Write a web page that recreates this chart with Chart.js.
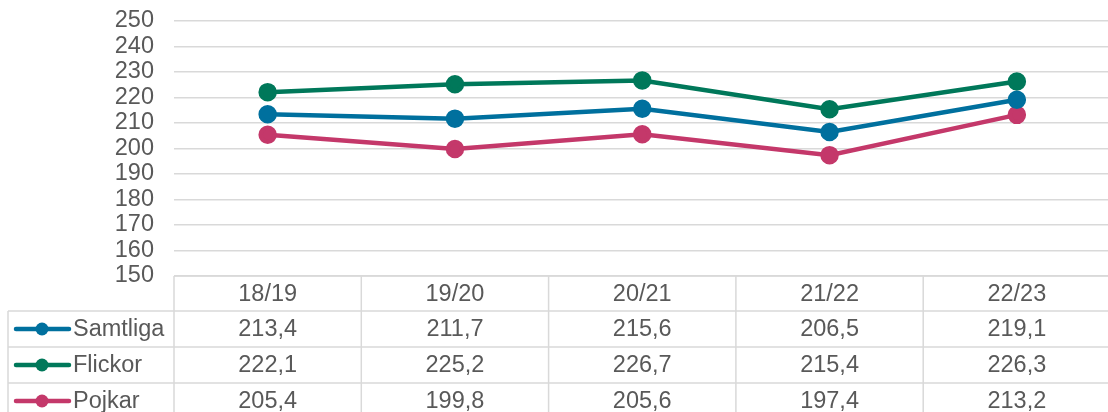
<!DOCTYPE html>
<html>
<head>
<meta charset="utf-8">
<script src="https://cdn.jsdelivr.net/npm/chart.js@4"></script>
<style>
  html, body { margin: 0; padding: 0; background: #fff; overflow: hidden; }
  #wrap { width: 1122px; height: 412px; }
</style>
</head>
<body>
<div id="wrap"><canvas id="chart" width="1122" height="412"></canvas></div>
<script>
// Data
const categories = ['18/19', '19/20', '20/21', '21/22', '22/23'];
const samtliga = [213.4, 211.7, 215.6, 206.5, 219.1];
const flickor = [222.1, 225.2, 226.7, 215.4, 226.3];
const pojkar = [205.4, 199.8, 205.6, 197.4, 213.2];
const seriesNames = ['Samtliga', 'Flickor', 'Pojkar'];
const seriesColors = ['#00709E', '#00785A', '#C4386A'];
const yMin = 150, yMax = 250, yStep = 10;

const textColor = '#595959';
const gridColor = '#d9d9d9';
const fontFamily = '"Liberation Sans", Arial, sans-serif';
const fontSize = 23.5;

function fmt(v) {
    return v.toFixed(1).replace('.', ',');
}

// Draws the data table under the plot, using the x scale
const dataTable = {
    id: 'dataTable',
    afterDraw(chart) {
        const ctx = chart.ctx;
        const area = chart.chartArea;
        const xScale = chart.scales.x;
        const rowH = 36;
        const headerTop = area.bottom;
        const headerH = 35;
        const legendLeft = 8;
        const n = categories.length;
        const colW = (area.right - area.left) / n;

        ctx.save();
        ctx.strokeStyle = gridColor;
        ctx.lineWidth = 1.5;

        // horizontal lines
        ctx.beginPath();
        ctx.moveTo(area.left, headerTop);
        ctx.lineTo(area.right, headerTop);
        for (let r = 0; r < seriesNames.length; r++) {
            const y = headerTop + headerH + r * rowH;
            ctx.moveTo(legendLeft, y);
            ctx.lineTo(area.right, y);
        }
        // vertical lines
        for (let c = 0; c <= n; c++) {
            const x = area.left + c * colW;
            ctx.moveTo(x, headerTop);
            ctx.lineTo(x, chart.height);
        }
        ctx.moveTo(legendLeft, headerTop + headerH);
        ctx.lineTo(legendLeft, chart.height);
        ctx.stroke();

        ctx.font = fontSize + 'px ' + fontFamily;
        ctx.fillStyle = textColor;
        ctx.textAlign = 'center';
        ctx.textBaseline = 'middle';

        // header
        categories.forEach((cat, i) => {
            ctx.fillText(cat, xScale.getPixelForValue(i), headerTop + headerH / 2 + 1);
        });

        const rows = [samtliga, flickor, pojkar];
        rows.forEach((vals, r) => {
            const yc = headerTop + headerH + r * rowH + rowH / 2;
            // legend key
            ctx.strokeStyle = seriesColors[r];
            ctx.lineWidth = 4.5;
            ctx.lineCap = 'round';
            ctx.beginPath();
            ctx.moveTo(16, yc);
            ctx.lineTo(69, yc);
            ctx.stroke();
            ctx.fillStyle = seriesColors[r];
            ctx.beginPath();
            ctx.arc(42, yc, 6.5, 0, Math.PI * 2);
            ctx.fill();
            ctx.fillStyle = textColor;
            ctx.textAlign = 'left';
            ctx.fillText(seriesNames[r], 73, yc + 1);
            ctx.textAlign = 'center';
            vals.forEach((v, i) => {
                ctx.fillText(fmt(v), xScale.getPixelForValue(i), yc + 1);
            });
        });
        ctx.restore();
    }
};

const ctx = document.getElementById('chart').getContext('2d');

new Chart(ctx, {
    type: 'line',
    data: {
        labels: categories,
        datasets: [samtliga, flickor, pojkar].map((vals, i) => ({
            label: seriesNames[i],
            data: vals,
            borderColor: seriesColors[i],
            backgroundColor: seriesColors[i],
            borderWidth: 4.5,
            pointRadius: 7,
            pointHoverRadius: 7,
            tension: 0,
            fill: false
        }))
    },
    options: {
        responsive: false,
        animation: false,
        layout: {
            padding: { top: 21, bottom: 136, left: 0, right: 0 }
        },
        scales: {
            x: {
                offset: true,
                grid: { display: false },
                border: { display: false },
                ticks: { display: false },
                afterFit(scale) { scale.height = 0; }
            },
            y: {
                min: yMin,
                max: yMax,
                ticks: {
                    stepSize: yStep,
                    autoSkip: false,
                    color: textColor,
                    padding: 20,
                    font: { size: fontSize, family: fontFamily }
                },
                grid: { color: gridColor, lineWidth: 1.5, drawTicks: false },
                border: { display: false },
                afterFit(scale) {
                    scale.width = 174;
                    scale.paddingTop = 0;
                    scale.paddingBottom = 0;
                }
            }
        },
        plugins: {
            legend: { display: false },
            tooltip: { enabled: false }
        }
    },
    plugins: [dataTable]
});
</script>
</body>
</html>
